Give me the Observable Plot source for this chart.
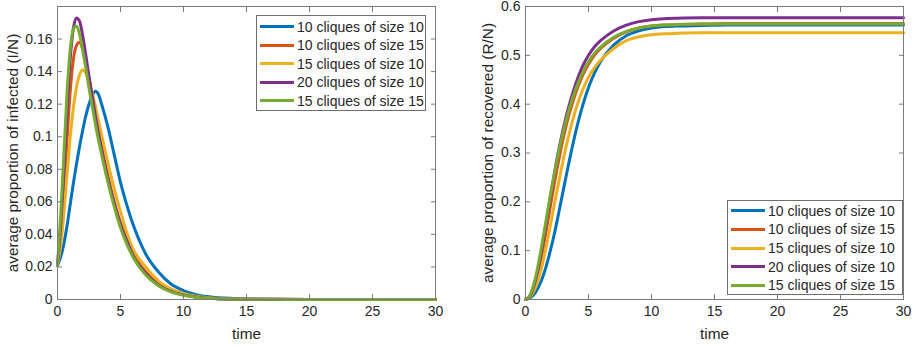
<!DOCTYPE html>
<html><head><meta charset="utf-8">
<script src="https://cdn.jsdelivr.net/npm/d3@7"></script>
<script src="https://cdn.jsdelivr.net/npm/@observablehq/plot@0.6"></script>
<style>
body{margin:0;background:#fff;font-family:"Liberation Sans",Arial,sans-serif;}
#wrap{position:relative;width:915px;height:347px;overflow:hidden;background:#fff;}
.panel{position:absolute;top:0;}
.legend{position:absolute;background:#fff;border:1px solid #6e6e6e;box-sizing:border-box;}
.row{position:absolute;left:3px;height:18px;display:flex;align-items:center;font-size:14px;color:#262626;white-space:nowrap;}
.sw{display:inline-block;width:34px;height:3px;margin-right:3px;}
</style></head><body><div id="wrap"></div>
<script>
const series = ["10 cliques of size 10","10 cliques of size 15","15 cliques of size 10","20 cliques of size 10","15 cliques of size 15"];
const colors = ["#0072BD","#D95319","#EDB120","#7E2F8E","#77AC30"];
const time = [0,0.25,0.5,0.75,1,1.25,1.5,1.75,2,2.25,2.5,2.75,3,3.25,3.5,4,4.5,5,5.5,6,7,8,9,10,11,12,14,16,20,25,30];

// infected proportion I/N
const infected_10x10 = [0.021,0.026,0.034,0.045,0.058,0.071,0.083,0.094,0.104,0.113,0.120,0.125,0.128,0.126,0.120,0.106,0.089,0.072,0.058,0.046,0.028,0.017,0.0095,0.0055,0.003,0.0017,0.0006,0.0002,0,0,0];
const infected_10x15 = [0.021,0.038,0.064,0.097,0.127,0.147,0.156,0.158,0.154,0.146,0.136,0.125,0.114,0.104,0.094,0.076,0.060,0.047,0.037,0.028,0.017,0.0095,0.0053,0.003,0.0016,0.0009,0.0003,0.0001,0,0,0];
const infected_15x10 = [0.021,0.033,0.052,0.076,0.099,0.117,0.130,0.138,0.141,0.139,0.134,0.127,0.119,0.110,0.101,0.084,0.068,0.054,0.041,0.031,0.020,0.0115,0.0065,0.0037,0.002,0.0011,0.0003,0.0001,0,0,0];
const infected_20x10 = [0.021,0.045,0.078,0.115,0.147,0.166,0.173,0.171,0.162,0.150,0.137,0.125,0.113,0.102,0.092,0.074,0.059,0.046,0.036,0.027,0.016,0.009,0.005,0.0028,0.0015,0.0008,0.0002,0.0001,0,0,0];
const infected_15x15 = [0.021,0.052,0.088,0.126,0.153,0.166,0.168,0.163,0.153,0.142,0.130,0.119,0.108,0.098,0.089,0.072,0.057,0.044,0.034,0.026,0.015,0.0085,0.0047,0.0026,0.0014,0.0008,0.0002,0.0001,0,0,0];

// recovered proportion R/N
const recovered_10x10 = [0,0.002,0.006,0.013,0.024,0.038,0.056,0.078,0.103,0.130,0.160,0.192,0.224,0.256,0.287,0.345,0.394,0.434,0.465,0.489,0.521,0.540,0.550,0.556,0.559,0.560,0.561,0.562,0.562,0.562,0.562];
const recovered_10x15 = [0,0.004,0.013,0.030,0.055,0.085,0.120,0.157,0.195,0.232,0.267,0.300,0.331,0.358,0.383,0.424,0.457,0.482,0.501,0.515,0.535,0.548,0.556,0.560,0.562,0.563,0.564,0.565,0.565,0.565,0.565];
const recovered_15x10 = [0,0.003,0.010,0.022,0.040,0.062,0.090,0.122,0.155,0.190,0.223,0.255,0.287,0.316,0.343,0.390,0.427,0.455,0.476,0.491,0.514,0.530,0.538,0.542,0.544,0.545,0.546,0.546,0.546,0.546,0.546];
const recovered_20x10 = [0,0.004,0.015,0.035,0.063,0.098,0.135,0.175,0.215,0.252,0.288,0.320,0.350,0.377,0.401,0.443,0.476,0.500,0.518,0.531,0.550,0.562,0.569,0.573,0.575,0.576,0.577,0.577,0.577,0.577,0.577];
const recovered_15x15 = [0,0.005,0.018,0.040,0.070,0.105,0.142,0.180,0.217,0.252,0.285,0.316,0.344,0.370,0.393,0.432,0.463,0.487,0.505,0.518,0.537,0.549,0.556,0.560,0.562,0.563,0.564,0.564,0.564,0.564,0.564];

const xTicks = [0,5,10,15,20,25,30];
const yTicksI = [0,0.02,0.04,0.06,0.08,0.1,0.12,0.14,0.16];
const yTicksR = [0,0.1,0.2,0.3,0.4,0.5,0.6];
const yLabelI = "average proportion of infected (I/N)";
const yLabelR = "average proportion of recovered (R/N)";
const xLabel = "time";

const infected = [infected_10x10, infected_10x15, infected_15x10, infected_20x10, infected_15x15];
const recovered = [recovered_10x10, recovered_10x15, recovered_15x10, recovered_20x10, recovered_15x15];

function table(arrs) {
  const out = [];
  arrs.forEach((a, i) => a.forEach((v, j) => out.push({t: time[j], v, s: series[i]})));
  return out;
}
const fmt = d => String(+d.toFixed(2));
const AX = "#7a7a7a";

function panel(data, yDomain, yTicks, yLabel, o) {
  return Plot.plot({
    width: o.width, height: 347,
    marginLeft: o.ml, marginRight: o.mr, marginTop: 6, marginBottom: 48,
    style: {fontFamily: "'Liberation Sans', Arial, sans-serif", fontSize: "14px", color: "#262626", background: "#fff", overflow: "visible"},
    x: {domain: [0, 30], label: null},
    y: {domain: yDomain, label: null},
    color: {domain: series, range: colors},
    marks: [
      Plot.line(data, {x: "t", y: "v", stroke: "s", strokeWidth: 3, curve: "monotone-x"}),
      Plot.frame({stroke: AX, strokeWidth: 1}),
      Plot.axisX({ticks: xTicks, tickSize: -5, tickPadding: 12, stroke: AX, tickFormat: fmt, fontSize: 14, label: null}),
      Plot.axisX({anchor: "top", ticks: xTicks, tickSize: -5, stroke: AX, tickFormat: () => "", label: null}),
      Plot.axisY({ticks: yTicks, tickSize: -5, tickPadding: 10, stroke: AX, tickFormat: fmt, fontSize: 14, label: null}),
      Plot.axisY({anchor: "right", ticks: yTicks, tickSize: -5, stroke: AX, tickFormat: () => "", label: null}),
      Plot.text([xLabel], {text: d => d, frameAnchor: "bottom", dy: 35, lineAnchor: "middle", textAnchor: "middle", fontSize: 15.4, fill: "#262626"}),
      Plot.text([yLabel], {text: d => d, frameAnchor: "left", rotate: -90, dx: o.ylx, lineAnchor: "middle", textAnchor: "middle", fontSize: 15.4, fill: "#262626"})
    ]
  });
}

const wrap = document.getElementById("wrap");
function place(el, left) { el.classList.add("panel"); el.style.left = left + "px"; wrap.appendChild(el); }
place(panel(table(infected), [0, 0.18], yTicksI, yLabelI, {width: 450, ml: 57, mr: 15, ylx: -44}), 0);
place(panel(table(recovered), [0, 0.6], yTicksR, yLabelR, {width: 455, ml: 65, mr: 12, ylx: -37}), 460);

function legend(left, top, width, height, first, step) {
  const box = document.createElement("div");
  box.className = "legend";
  Object.assign(box.style, {left: left + "px", top: top + "px", width: width + "px", height: height + "px"});
  series.forEach((s, i) => {
    const row = document.createElement("div");
    row.className = "row";
    row.style.top = (first + i * step - 9) + "px";
    const sw = document.createElement("span");
    sw.className = "sw";
    sw.style.background = colors[i];
    row.appendChild(sw);
    row.appendChild(document.createTextNode(s));
    box.appendChild(row);
  });
  wrap.appendChild(box);
}
legend(256, 15, 170, 96, 10.7, 18.5);
legend(727, 200, 176, 95, 9.7, 18.65);
</script></body></html>
